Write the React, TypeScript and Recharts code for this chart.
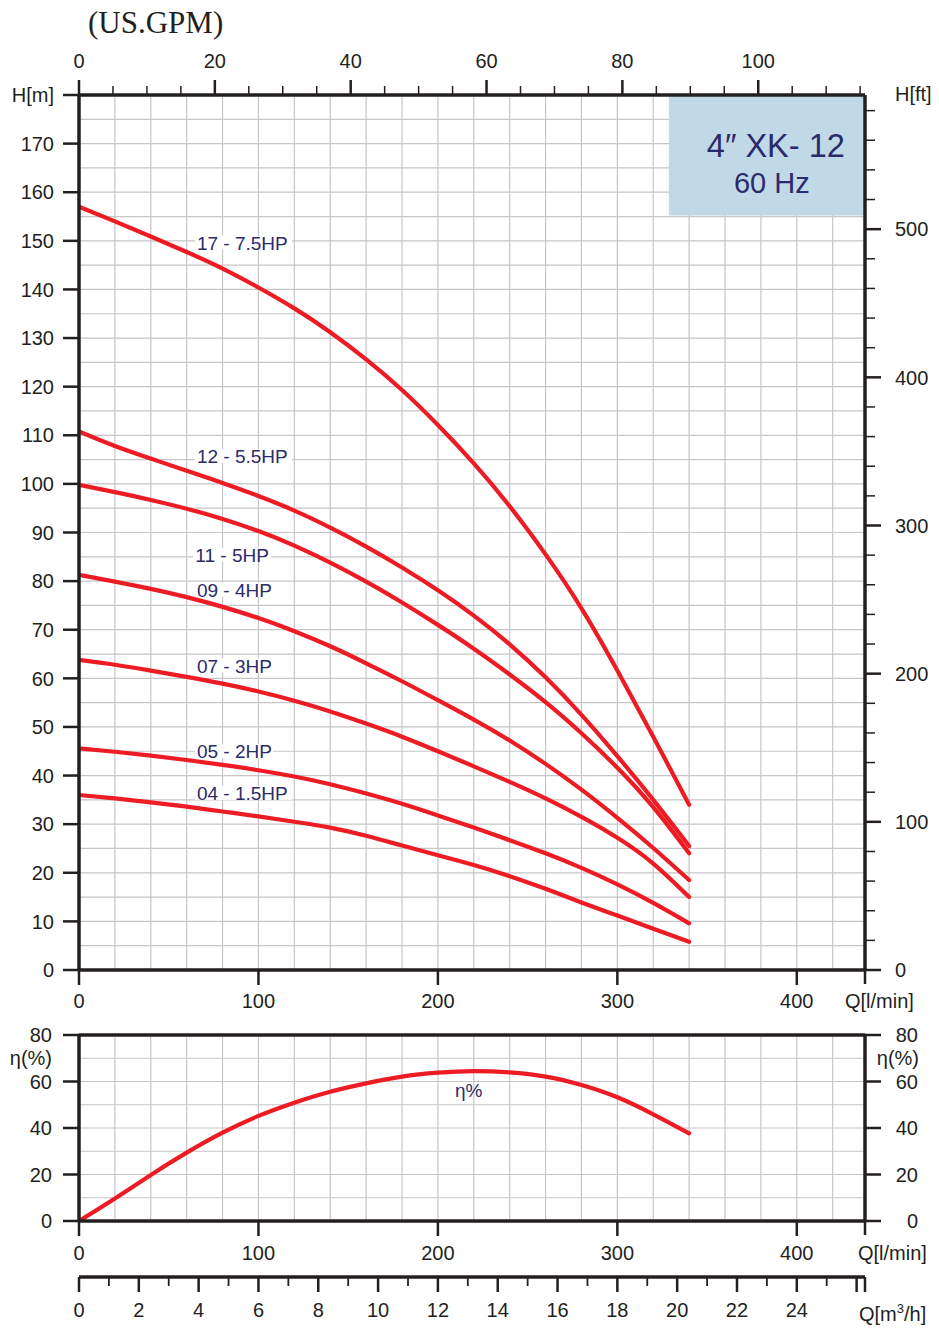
import React from 'react';
import {
  LineChart,
  Line,
  XAxis,
  YAxis,
  CartesianGrid,
  ReferenceArea,
  ReferenceDot,
  ReferenceLine,
} from 'recharts';

// flow at the right-hand frame, l/min
const Q_MAX = 438;
const LPM_PER_GPM = 3.785;
const FT_PER_M = 3.28084;
const LPM_PER_M3H = 1000 / 60;

// flow points (l/min)
const Q_LPM = [0, 20, 40, 60, 80, 100, 120, 140, 160, 180, 200, 220, 240, 260, 280, 300, 320, 340];

// head in metres for each model
const H_17 = [157.0, 154.0, 150.9, 147.7, 144.3, 140.4, 136.1, 131.2, 125.6, 119.3, 112.1, 104.2, 95.4, 85.5, 74.4, 61.6, 48.0, 34.0];
const H_12 = [110.8, 107.8, 105.2, 102.7, 100.2, 97.5, 94.5, 91.0, 87.1, 82.8, 78.1, 72.9, 67.0, 60.2, 52.5, 44.0, 35.0, 25.5];
const H_11 = [99.8, 98.3, 96.7, 94.9, 92.8, 90.3, 87.3, 83.8, 79.9, 75.6, 71.0, 66.1, 60.8, 55.1, 48.7, 41.6, 33.5, 24.0];
const H_09 = [81.3, 79.9, 78.4, 76.7, 74.7, 72.4, 69.7, 66.6, 63.1, 59.4, 55.5, 51.5, 47.2, 42.4, 37.1, 31.3, 25.1, 18.5];
const H_07 = [63.8, 62.8, 61.6, 60.3, 58.9, 57.3, 55.4, 53.2, 50.7, 48.0, 45.0, 41.9, 38.7, 35.3, 31.5, 27.2, 21.9, 15.0];
const H_05 = [45.6, 44.9, 44.1, 43.2, 42.2, 41.1, 39.8, 38.2, 36.3, 34.2, 31.8, 29.3, 26.7, 24.0, 21.0, 17.6, 13.8, 9.6];
const H_04 = [36.0, 35.3, 34.5, 33.6, 32.6, 31.6, 30.5, 29.3, 27.6, 25.6, 23.6, 21.6, 19.3, 16.7, 13.9, 11.2, 8.5, 5.8];

// pump efficiency, %
const ETA = [0, 9.7, 19.8, 29.4, 38.0, 45.2, 50.9, 55.6, 59.2, 62.1, 63.8, 64.5, 63.9, 62.1, 58.5, 53.2, 45.9, 37.7];

const MODELS = [
  { key: 's17', name: '17 - 7.5HP', values: H_17 },
  { key: 's12', name: '12 - 5.5HP', values: H_12 },
  { key: 's11', name: '11 - 5HP', values: H_11 },
  { key: 's09', name: '09 - 4HP', values: H_09 },
  { key: 's07', name: '07 - 3HP', values: H_07 },
  { key: 's05', name: '05 - 2HP', values: H_05 },
  { key: 's04', name: '04 - 1.5HP', values: H_04 },
];

// where each curve name sits (q in l/min, h = text baseline in m)
const LABEL_POS: Record<string, { q: number; h: number }> = {
  s17: { q: 65.7, h: 148.2 },
  s12: { q: 65.7, h: 104.3 },
  s11: { q: 64.8, h: 84.0 },
  s09: { q: 65.7, h: 76.8 },
  s07: { q: 65.7, h: 61.2 },
  s05: { q: 65.7, h: 43.6 },
  s04: { q: 65.7, h: 35.0 },
};

const HEAD_ROWS = Q_LPM.map((q, i) => {
  const row: Record<string, number> = { q, gpm: q / LPM_PER_GPM };
  MODELS.forEach((m) => (row[m.key] = m.values[i]));
  return row;
});
const ETA_ROWS = Q_LPM.map((q, i) => ({ q, m3: q / LPM_PER_M3H, eta: ETA[i] }));

const steps = (from: number, to: number, step: number) => {
  const out: number[] = [];
  for (let v = from; v <= to + 1e-9; v += step) out.push(v);
  return out;
};

const GPM_MAX = Q_MAX / LPM_PER_GPM;
const FT_MAX = 180 * FT_PER_M;
const M3H_MAX = Q_MAX / LPM_PER_M3H;

const Q_TICKS = [...steps(0, 420, 20), Q_MAX];
const GPM_TICKS = steps(0, 115, 5);
const M_TICKS = steps(0, 180, 5);
const FT_TICKS = [...steps(0, 580, 20), FT_MAX];
const ETA_TICKS = steps(0, 80, 10);
const M3H_TICKS = [...steps(0, 26, 1), M3H_MAX];

const AXIS = '#231f20';
const GRID = '#c6c6c9';
const RED = '#ed1c24';
const NAVY = '#2b2a6b';
const SANS = '"Liberation Sans", Arial, sans-serif';
const SERIF = '"Liberation Serif", "Times New Roman", serif';
const FS = 20;

const txt = { fontSize: FS, fontFamily: SANS, fill: AXIS } as const;

const LeftTickM = ({ x, y, payload }: any) => {
  const v = payload.value;
  if (v % 10 !== 0) return <g />;
  return (
    <g>
      <line x1={x - 16} x2={x} y1={y} y2={y} stroke={AXIS} strokeWidth={2.5} />
      <text x={x - 25} y={y} dy="0.36em" textAnchor="end" {...txt}>
        {v === 180 ? 'H[m]' : v}
      </text>
    </g>
  );
};

const RightTickFt = ({ x, y, payload }: any) => {
  const v = payload.value;
  if (v > 585) {
    return (
      <text x={x + 30} y={y - 1} dy="0.36em" textAnchor="start" {...txt}>
        H[ft]
      </text>
    );
  }
  const major = v % 100 === 0;
  return (
    <g>
      <line x1={x} x2={x + (major ? 16 : 10)} y1={y} y2={y} stroke={AXIS} strokeWidth={major ? 2.5 : 1.5} />
      {major && (
        <text x={x + 30} y={y} dy="0.36em" textAnchor="start" {...txt}>
          {v}
        </text>
      )}
    </g>
  );
};

const TopTickGpm = ({ x, y, payload }: any) => {
  const v = Math.round(payload.value);
  const major = v % 20 === 0;
  return (
    <g>
      <line x1={x} x2={x} y1={y - (major ? 15 : 9)} y2={y} stroke={AXIS} strokeWidth={major ? 2.5 : 1.5} />
      {major && (
        <text x={x} y={y - 27} textAnchor="middle" {...txt}>
          {v}
        </text>
      )}
    </g>
  );
};

const BottomTickQ = (baseline: number, unitDx: number) => ({ x, y, payload }: any) => {
  const v = payload.value;
  if (v >= Q_MAX - 0.01) {
    return (
      <g>
        <line x1={x} x2={x} y1={y} y2={y + 14} stroke={AXIS} strokeWidth={2.5} />
        <text x={x + unitDx} y={y + baseline} textAnchor="start" {...txt}>
          Q[l/min]
        </text>
      </g>
    );
  }
  if (v % 100 !== 0) return <g />;
  return (
    <g>
      <line x1={x} x2={x} y1={y} y2={y + 15} stroke={AXIS} strokeWidth={2.5} />
      <text x={x} y={y + baseline} textAnchor="middle" {...txt}>
        {v}
      </text>
    </g>
  );
};

const LeftTickEta = ({ x, y, payload }: any) => {
  const v = payload.value;
  if (v === 70) {
    return (
      <text x={x - 27} y={y} dy="0.36em" textAnchor="end" {...txt}>
        η(%)
      </text>
    );
  }
  if (v % 20 !== 0) return <g />;
  return (
    <g>
      <line x1={x - 16} x2={x} y1={y} y2={y} stroke={AXIS} strokeWidth={2.5} />
      <text x={x - 27} y={y} dy="0.36em" textAnchor="end" {...txt}>
        {v}
      </text>
    </g>
  );
};

const RightTickEta = ({ x, y, payload }: any) => {
  const v = payload.value;
  if (v === 70) {
    return (
      <text x={x + 54} y={y} dy="0.36em" textAnchor="end" {...txt}>
        η(%)
      </text>
    );
  }
  if (v % 20 !== 0) return <g />;
  return (
    <g>
      <line x1={x} x2={x + 16} y1={y} y2={y} stroke={AXIS} strokeWidth={2.5} />
      <text x={x + 53} y={y} dy="0.36em" textAnchor="end" {...txt}>
        {v}
      </text>
    </g>
  );
};

const BottomTickM3 = ({ x, y, payload }: any) => {
  const v = payload.value;
  if (v > 26.1) {
    return (
      <g>
        <line x1={x} x2={x} y1={y} y2={y + 15} stroke={AXIS} strokeWidth={2.5} />
        <text x={x - 6} y={y + 44} textAnchor="start" {...txt}>
          <tspan>Q[m</tspan>
          <tspan dy={-8} fontSize={13}>3</tspan>
          <tspan dy={8}>/h]</tspan>
        </text>
      </g>
    );
  }
  const major = v % 2 === 0;
  return (
    <g>
      <line x1={x} x2={x} y1={y} y2={y + (major ? 15 : 9)} stroke={AXIS} strokeWidth={major ? 2.5 : 1.8} />
      {major && v <= 24 && (
        <text x={x} y={y + 40} textAnchor="middle" {...txt}>
          {v}
        </text>
      )}
    </g>
  );
};

// white patch behind the curve names so the grid does not run through them
const CurveLabel = (text: string) => (p: any) => {
  const w = text.length * 9.5 + 2;
  return (
    <g>
      <rect x={p.cx - 2} y={p.cy - 14} width={w} height={14} fill="#ffffff" />
      <text x={p.cx} y={p.cy} fontSize={19} fontFamily={SANS} fill={NAVY}>
        {text}
      </text>
    </g>
  );
};

const TitleText = (p: any) => (
  <g fontFamily={SANS} fill={NAVY} textAnchor="middle">
    <text x={p.cx} y={p.cy} fontSize={32.5}>
      4″ XK- 12
    </text>
    <text x={p.cx - 4} y={p.cy + 36} fontSize={29}>
      60 Hz
    </text>
  </g>
);

const axisLine = { stroke: AXIS, strokeWidth: 3.5 };

function HeadChart() {
  return (
    <LineChart width={939} height={1020} data={HEAD_ROWS} margin={{ top: 55, right: 14, bottom: 10, left: 19 }}>
      <CartesianGrid xAxisId="q" yAxisId="m" stroke={GRID} strokeWidth={1.2} />
      <XAxis
        xAxisId="gpm"
        dataKey="gpm"
        orientation="top"
        type="number"
        domain={[0, GPM_MAX]}
        allowDataOverflow
        ticks={GPM_TICKS}
        interval={0}
        height={40}
        tickSize={0}
        tickMargin={0}
        tickLine={false}
        axisLine={axisLine}
        tick={TopTickGpm}
      />
      <XAxis
        xAxisId="q"
        dataKey="q"
        orientation="bottom"
        type="number"
        domain={[0, Q_MAX]}
        allowDataOverflow
        ticks={Q_TICKS}
        interval={0}
        height={40}
        tickSize={0}
        tickMargin={0}
        tickLine={false}
        axisLine={axisLine}
        tick={BottomTickQ(38, -20)}
      />
      <YAxis
        yAxisId="m"
        orientation="left"
        type="number"
        domain={[0, 180]}
        allowDataOverflow
        ticks={M_TICKS}
        interval={0}
        width={60}
        tickSize={0}
        tickMargin={0}
        tickLine={false}
        axisLine={axisLine}
        tick={LeftTickM}
      />
      <YAxis
        yAxisId="ft"
        orientation="right"
        type="number"
        domain={[0, FT_MAX]}
        allowDataOverflow
        ticks={FT_TICKS}
        interval={0}
        width={60}
        tickSize={0}
        tickMargin={0}
        tickLine={false}
        axisLine={axisLine}
        tick={RightTickFt}
      />
      <ReferenceArea
        xAxisId="q"
        yAxisId="m"
        x1={328.7}
        x2={Q_MAX}
        y1={155.2}
        y2={180}
        fill="#c1d9e7"
        fillOpacity={1}
        stroke="none"
      />
      <ReferenceDot xAxisId="q" yAxisId="m" x={388.3} y={167.3} r={0} shape={TitleText} />
      {MODELS.map((m) => (
        <ReferenceDot
          key={'lbl' + m.key}
          xAxisId="q"
          yAxisId="m"
          x={LABEL_POS[m.key].q}
          y={LABEL_POS[m.key].h}
          r={0}
          shape={CurveLabel(m.name)}
        />
      ))}
      {MODELS.map((m) => (
        <Line
          key={m.key}
          xAxisId="q"
          yAxisId="m"
          dataKey={m.key}
          type="natural"
          stroke={RED}
          strokeWidth={4.2}
          strokeLinecap="round"
          dot={false}
          activeDot={false}
          isAnimationActive={false}
        />
      ))}
    </LineChart>
  );
}

function EfficiencyChart() {
  return (
    <LineChart width={939} height={330} data={ETA_ROWS} margin={{ top: 35, right: 14, bottom: 3, left: 19 }}>
      <CartesianGrid xAxisId="q" yAxisId="eta" stroke={GRID} strokeWidth={1.2} />
      <XAxis
        xAxisId="z3"
        dataKey="m3"
        orientation="bottom"
        type="number"
        domain={[0, M3H_MAX]}
        allowDataOverflow
        ticks={M3H_TICKS}
        interval={0}
        height={50}
        tickSize={0}
        tickMargin={0}
        tickLine={false}
        axisLine={axisLine}
        tick={BottomTickM3}
      />
      <XAxis
        xAxisId="q"
        dataKey="q"
        orientation="bottom"
        type="number"
        domain={[0, Q_MAX]}
        allowDataOverflow
        ticks={Q_TICKS}
        interval={0}
        height={56}
        tickSize={0}
        tickMargin={0}
        tickLine={false}
        axisLine={axisLine}
        tick={BottomTickQ(39, -7)}
      />
      <YAxis
        yAxisId="eta"
        orientation="left"
        type="number"
        domain={[0, 80]}
        allowDataOverflow
        ticks={ETA_TICKS}
        interval={0}
        width={60}
        tickSize={0}
        tickMargin={0}
        tickLine={false}
        axisLine={axisLine}
        tick={LeftTickEta}
      />
      <YAxis
        yAxisId="eta2"
        orientation="right"
        type="number"
        domain={[0, 80]}
        allowDataOverflow
        ticks={ETA_TICKS}
        interval={0}
        width={60}
        tickSize={0}
        tickMargin={0}
        tickLine={false}
        axisLine={axisLine}
        tick={RightTickEta}
      />
      <ReferenceLine xAxisId="q" yAxisId="eta" y={80} stroke={AXIS} strokeWidth={3.5} />
      <ReferenceDot
        xAxisId="q"
        yAxisId="eta"
        x={209.5}
        y={53.3}
        r={0}
        shape={(p: any) => (
          <text x={p.cx} y={p.cy} fontSize={19} fontFamily={SANS} fill={NAVY}>
            η%
          </text>
        )}
      />
      <Line
        xAxisId="q"
        yAxisId="eta"
        dataKey="eta"
        type="natural"
        stroke={RED}
        strokeWidth={4.2}
        strokeLinecap="round"
        dot={false}
        activeDot={false}
        isAnimationActive={false}
      />
    </LineChart>
  );
}

export default function App() {
  return (
    <div style={{ position: 'absolute', left: 0, top: 0, width: 939, height: 1330, background: '#ffffff' }}>
      <div style={{ position: 'absolute', left: 0, top: 0 }}>
        <HeadChart />
      </div>
      <div style={{ position: 'absolute', left: 0, top: 1000 }}>
        <EfficiencyChart />
      </div>
      <svg width={300} height={50} style={{ position: 'absolute', left: 0, top: 0 }}>
        <text x={88} y={33} fontSize={31} fontFamily={SERIF} fill={AXIS}>
          (US.GPM)
        </text>
      </svg>
    </div>
  );
}
